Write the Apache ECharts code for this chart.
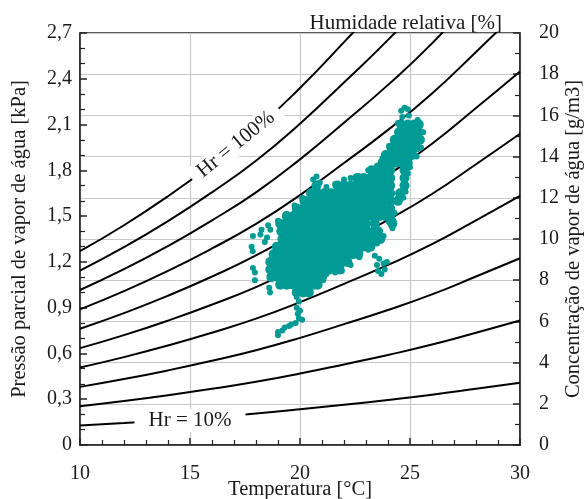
<!DOCTYPE html>
<html>
<head>
<meta charset="utf-8">
<script src="https://cdn.jsdelivr.net/npm/echarts@6/dist/echarts.min.js"></script>
<style>
  html, body { margin: 0; padding: 0; background: #fff; }
  #chart { width: 584px; height: 499px; }
</style>
</head>
<body>
<div id="chart"></div>
<script>
// temperatures where the humidity curves were read
var temps = [10, 12, 14, 16, 18, 20, 22, 24, 26, 28, 30];

// partial pressure (kPa) of each relative humidity curve
var hr10  = [0.127, 0.144, 0.163, 0.184, 0.207, 0.234, 0.264, 0.295, 0.329, 0.368, 0.408];
var hr20  = [0.254, 0.288, 0.326, 0.368, 0.414, 0.468, 0.528, 0.590, 0.658, 0.736, 0.816];
var hr30  = [0.381, 0.432, 0.489, 0.552, 0.621, 0.702, 0.792, 0.885, 0.987, 1.104, 1.224];
var hr40  = [0.508, 0.576, 0.652, 0.736, 0.828, 0.936, 1.056, 1.180, 1.316, 1.472, 1.632];
var hr50  = [0.635, 0.720, 0.815, 0.920, 1.035, 1.170, 1.320, 1.475, 1.645, 1.840, 2.040];
var hr60  = [0.762, 0.864, 0.978, 1.104, 1.242, 1.404, 1.584, 1.770, 1.974, 2.208, 2.448];
var hr70  = [0.889, 1.008, 1.141, 1.288, 1.449, 1.638, 1.848, 2.065, 2.303, 2.576, 2.856];
var hr80  = [1.016, 1.152, 1.304, 1.472, 1.656, 1.872, 2.112, 2.360, 2.632, 2.944, 3.264];
var hr90  = [1.143, 1.296, 1.467, 1.656, 1.863, 2.106, 2.376, 2.655, 2.961, 3.312, 3.672];
var hr100 = [1.270, 1.440, 1.630, 1.840, 2.070, 2.340, 2.640, 2.950, 3.290, 3.680, 4.080];
var hrCurves = [hr10, hr20, hr30, hr40, hr50, hr60, hr70, hr80, hr90, hr100];

// measured points: dense part of the cloud, row by row [kPa, [temperatures]]
var denseRows = [
    [2.10, [24.6, 24.9, 25.2, 25.4]],
    [2.05, [24.5, 24.8, 25.1, 25.4]],
    [2.00, [24.3, 24.6, 24.9, 25.2, 25.45]],
    [1.95, [24.15, 24.45, 24.75, 25.05, 25.3]],
    [1.90, [23.9, 24.2, 24.5, 24.8, 25.1]],
    [1.85, [23.75, 24.05, 24.35, 24.65, 24.9]],
    [1.80, [23.25, 23.55, 23.85, 24.1, 24.75]],
    [1.75, [22.6, 22.9, 23.2, 23.5, 23.8, 24.1, 24.75]],
    [1.70, [20.75, 21.7, 22.0, 22.3, 22.6, 22.9, 23.2, 23.5, 23.8, 24.1, 24.75]],
    [1.65, [20.5, 20.8, 21.1, 21.4, 21.7, 22.0, 22.3, 22.6, 22.9, 23.2, 23.5, 23.8, 24.1, 24.55]],
    [1.60, [20.2, 20.5, 20.8, 21.1, 21.4, 21.7, 22.0, 22.3, 22.6, 22.9, 23.2, 23.5, 23.8, 24.1, 24.45]],
    [1.55, [19.85, 20.15, 20.45, 20.75, 21.05, 21.35, 21.65, 21.95, 22.25, 22.55, 22.85, 23.15, 23.45, 23.75, 24.1]],
    [1.50, [19.4, 19.7, 20.0, 20.3, 20.6, 20.9, 21.2, 21.5, 21.8, 22.1, 22.4, 22.7, 23.0, 23.3, 23.6, 23.9, 24.1]],
    [1.45, [19.1, 19.4, 19.7, 20.0, 20.3, 20.6, 20.9, 21.2, 21.5, 21.8, 22.1, 22.4, 22.7, 23.0, 23.4, 24.2]],
    [1.40, [19.15, 19.45, 19.75, 20.05, 20.35, 20.65, 20.95, 21.25, 21.55, 21.85, 22.15, 22.45, 22.75, 23.05, 23.35, 23.55]],
    [1.35, [19.2, 19.5, 19.8, 20.1, 20.4, 20.7, 21.0, 21.3, 21.6, 21.9, 22.2, 22.5, 22.8, 23.1, 23.4, 23.65]],
    [1.30, [18.95, 19.25, 19.55, 19.85, 20.15, 20.45, 20.75, 21.05, 21.35, 21.65, 21.95, 22.25, 22.55, 22.85, 23.2]],
    [1.25, [18.8, 19.1, 19.4, 19.7, 20.0, 20.3, 20.6, 20.9, 21.2, 21.5, 21.8, 22.1, 22.4, 22.65]],
    [1.20, [18.65, 18.95, 19.25, 19.55, 19.85, 20.15, 20.45, 20.75, 21.05, 21.35, 21.65, 21.95, 22.15]],
    [1.15, [18.65, 18.95, 19.25, 19.55, 19.85, 20.15, 20.45, 20.75, 21.05, 21.35, 21.6, 21.8]],
    [1.10, [18.7, 19.0, 19.3, 19.6, 19.9, 20.2, 20.5, 20.8, 21.0]],
    [1.05, [19.1, 19.4, 19.7, 20.0, 20.3, 20.6, 20.8]],
    [1.00, [19.85, 20.15, 20.4]]
];

// measured points: loose points around the edge of the cloud [°C, kPa]
var loosePoints = [
    [24.6, 2.19], [24.75, 2.21], [24.9, 2.2], [24.95, 2.16], [24.65, 2.15], [25.35, 2.13],
    [25.6, 2.05], [25.5, 1.95], [25.3, 1.89], [24.45, 2.11], [25.0, 1.82], [24.9, 1.78],
    [24.05, 1.96], [23.75, 1.88], [23.5, 1.83], [23.1, 1.8], [22.7, 1.76], [22.3, 1.75],
    [22.0, 1.74], [21.6, 1.71], [20.6, 1.74], [20.9, 1.72], [20.75, 1.76], [21.2, 1.69],
    [20.1, 1.62], [19.75, 1.57], [19.35, 1.51], [19.0, 1.47],
    [18.55, 1.44], [18.25, 1.41], [18.65, 1.41], [18.2, 1.38], [17.86, 1.37], [18.5, 1.36],
    [18.4, 1.33], [17.8, 1.30], [17.85, 1.27], [17.86, 1.16], [17.95, 1.13], [17.95, 1.08],
    [18.64, 1.0], [18.6, 1.03],
    [24.2, 1.42], [24.25, 1.47], [24.3, 1.52], [24.05, 1.46],
    [23.4, 1.24], [23.6, 1.22], [23.5, 1.18], [23.8, 1.19], [23.55, 1.14], [23.85, 1.15],
    [23.7, 1.12], [23.95, 1.2], [24.75, 1.72], [24.8, 1.66], [24.7, 1.62],
    [20.2, 1.02], [20.7, 1.04], [21.05, 1.08], [21.2, 1.12], [21.6, 1.13], [21.9, 1.14],
    [22.3, 1.18], [22.7, 1.23], [23.1, 1.28], [23.5, 1.32], [23.8, 1.37],
    [19.85, 0.97], [19.95, 0.94], [19.85, 0.9], [19.9, 0.86], [19.95, 0.83], [20.1, 0.82],
    [19.8, 0.8], [19.6, 0.79], [19.3, 0.77], [19.2, 0.75], [19.0, 0.74], [19.0, 0.72],
    [19.5, 0.78], [20.0, 0.88]
];

var pressureTicks = ['0', '0,3', '0,6', '0,9', '1,2', '1,5', '1,8', '2,1', '2,4', '2,7'];

// curve labels, anchored on the curve they name
var curveLabels = [
    { text: 'Hr = 100%', at: [17.08, 1.97], rotate: 39, pad: [1, 9] },
    { text: 'Hr = 10%', at: [15.0, 0.16], rotate: 0, pad: [1, 14] }
];

var serif = "'Liberation Serif', 'DejaVu Serif', serif";
var ink = '#1a1a1a';

var densePoints = [];
denseRows.forEach(function (row) {
    row[1].forEach(function (t) {
        densePoints.push([t, row[0]]);
    });
});

var series = [];
hrCurves.forEach(function (curve) {
    series.push({
        type: 'line',
        smooth: true,
        showSymbol: false,
        silent: true,
        z: 2,
        lineStyle: { color: '#000', width: 2 },
        data: temps.map(function (t, i) { return [t, curve[i]]; })
    });
});

series.push({
    type: 'scatter',
    silent: true,
    z: 4,
    symbolSize: 10,
    itemStyle: { color: '#009b95', opacity: 1 },
    data: densePoints
});
series.push({
    type: 'scatter',
    silent: true,
    z: 4,
    symbolSize: 6,
    itemStyle: { color: '#009b95', opacity: 1 },
    data: loosePoints
});

var chart = echarts.init(document.getElementById('chart'), null, { renderer: 'canvas' });
var option = {
    backgroundColor: '#fff',
    animation: false,
    title: {
        text: 'Humidade relativa [%]',
        right: 77,
        top: 8,
        textStyle: { fontFamily: serif, fontSize: 21, fontWeight: 'normal', color: ink }
    },
    grid: {
        left: 80, right: 64, top: 33, bottom: 54,
        outerBoundsMode: 'none',
        containLabel: false,
        show: true,
        borderColor: '#222',
        borderWidth: 1.5
    },
    xAxis: {
        type: 'value',
        min: 10, max: 30, interval: 5,
        name: 'Temperatura [°C]',
        nameLocation: 'middle',
        nameGap: 34,
        nameMoveOverlap: false,
        nameTextStyle: { fontFamily: serif, fontSize: 20.5, color: ink },
        axisLine: { lineStyle: { color: '#222', width: 1.5 } },
        axisTick: { inside: true, length: 7, lineStyle: { color: '#222', width: 1.5 } },
        minorTick: { show: true, splitNumber: 5, length: 5, lineStyle: { color: '#222', width: 1.2 } },
        axisLabel: { fontFamily: serif, fontSize: 20, color: ink, margin: 19 },
        splitLine: { show: true, lineStyle: { color: '#c8c8c8', width: 1.2 } }
    },
    yAxis: [{
        type: 'value',
        min: 0, max: 2.7, interval: 0.3,
        position: 'left',
        name: 'Pressão parcial de vapor de água [kPa]',
        nameLocation: 'middle',
        nameRotate: 90,
        nameGap: 50,
        nameMoveOverlap: false,
        nameTextStyle: { fontFamily: serif, fontSize: 20.5, color: ink },
        axisLine: { show: true, lineStyle: { color: '#222', width: 1.5 } },
        axisTick: { show: true, inside: true, length: 7, lineStyle: { color: '#222', width: 1.5 } },
        minorTick: { show: true, splitNumber: 3, length: 5, lineStyle: { color: '#222', width: 1.2 } },
        axisLabel: {
            fontFamily: serif, fontSize: 20, color: ink, margin: 8,
            formatter: function (v) { return pressureTicks[Math.round(v / 0.3)]; }
        },
        splitLine: { show: false }
    }, {
        type: 'value',
        min: 0, max: 20, interval: 2,
        position: 'right',
        name: 'Concentração de vapor de água [g/m3]',
        nameLocation: 'middle',
        nameRotate: 90,
        nameGap: 43,
        nameMoveOverlap: false,
        nameTextStyle: { fontFamily: serif, fontSize: 20.5, color: ink },
        axisLine: { show: true, lineStyle: { color: '#222', width: 1.5 } },
        axisTick: { show: true, inside: true, length: 7, lineStyle: { color: '#222', width: 1.5 } },
        minorTick: { show: true, splitNumber: 2, length: 5, lineStyle: { color: '#222', width: 1.2 } },
        axisLabel: { fontFamily: serif, fontSize: 20, color: ink, margin: 19 },
        splitLine: { show: true, lineStyle: { color: '#c8c8c8', width: 1.2 } }
    }],
    series: series
};
chart.setOption(option);

// put the curve names on top, with a white box that cuts the line
chart.setOption({
    graphic: curveLabels.map(function (lb) {
        var p = chart.convertToPixel({ xAxisIndex: 0, yAxisIndex: 0 }, lb.at);
        return {
            type: 'text',
            x: p[0],
            y: p[1],
            rotation: lb.rotate * Math.PI / 180,
            z: 50,
            silent: true,
            style: {
                text: lb.text,
                fill: ink,
                font: "21px 'Liberation Serif', serif",
                align: 'center',
                verticalAlign: 'middle',
                backgroundColor: '#fff',
                padding: lb.pad
            }
        };
    })
});
</script>
</body>
</html>
